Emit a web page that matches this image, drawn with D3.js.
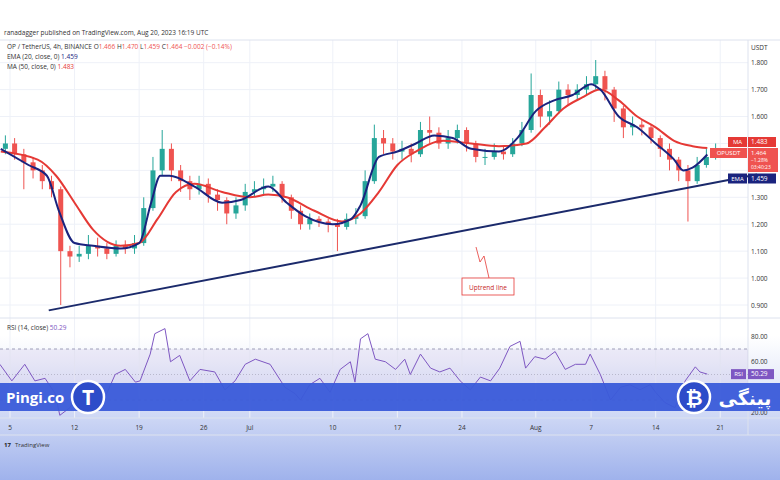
<!DOCTYPE html>
<html><head><meta charset="utf-8">
<script src="https://cdnjs.cloudflare.com/ajax/libs/d3/7.8.5/d3.min.js"></script>
<style>body{margin:0;background:#fff;font-family:"Open Sans",sans-serif}</style>
</head><body><svg id="c" width="780" height="480"></svg>
<script>
// daily candles, Jun 4 .. Aug 20 (open = previous close)
const closes = [1.50,1.46,1.43,1.40,1.36,1.33,1.10,1.08,1.09,1.12,1.11,1.09,1.12,1.11,1.13,1.26,1.40,1.48,1.40,1.36,1.33,1.35,1.31,1.29,1.24,1.27,1.32,
  1.33,1.34,1.35,1.30,1.25,1.20,1.22,1.21,1.20,1.19,1.22,1.23,1.36,1.52,1.50,1.47,1.48,1.46,1.55,1.54,1.50,1.52,1.55,1.50,1.45,1.45,1.47,1.46,1.50,1.55,1.68,
  1.60,1.62,1.70,1.68,1.70,1.72,1.75,1.70,1.63,1.56,1.57,1.56,1.52,1.48,1.44,1.40,1.36,1.42,1.45,1.464];
const highs = [1.53,1.52,1.48,1.45,1.42,1.38,1.34,1.12,1.12,1.16,1.15,1.13,1.14,1.14,1.16,1.30,1.45,1.55,1.50,1.42,1.38,1.38,1.37,1.33,1.30,1.30,1.35,
  1.36,1.37,1.38,1.36,1.31,1.27,1.24,1.23,1.22,1.22,1.24,1.26,1.40,1.57,1.55,1.52,1.51,1.50,1.58,1.60,1.56,1.55,1.57,1.56,1.51,1.48,1.50,1.49,1.52,1.58,1.76,
  1.70,1.66,1.73,1.72,1.72,1.75,1.81,1.77,1.71,1.64,1.60,1.59,1.57,1.53,1.50,1.45,1.42,1.45,1.48,1.50];
const lows = [1.46,1.44,1.33,1.37,1.33,1.30,0.90,1.04,1.06,1.07,1.08,1.07,1.08,1.09,1.09,1.12,1.25,1.38,1.36,1.32,1.29,1.31,1.28,1.25,1.20,1.22,1.25,
  1.30,1.31,1.32,1.28,1.22,1.18,1.18,1.19,1.17,1.10,1.18,1.20,1.22,1.35,1.46,1.44,1.44,1.43,1.45,1.50,1.48,1.48,1.50,1.47,1.43,1.42,1.44,1.44,1.45,1.49,1.54,
  1.56,1.57,1.61,1.64,1.66,1.68,1.70,1.66,1.58,1.52,1.53,1.53,1.50,1.45,1.40,1.36,1.21,1.35,1.41,1.44];
const firstOpen = 1.48;

// indicator lines: [days from Jun 5, value]
const ema20 = [[-1,1.48],[2,1.42],[4,1.38],[5.3,1.25],[7,1.13],[9,1.12],[12,1.11],[14,1.13],[15.3,1.28],[16.3,1.38],[17.3,1.38],[20,1.34],[23,1.28],[25,1.29],
  [28,1.34],[30,1.28],[32,1.23],[35,1.20],[37,1.22],[38,1.27],[40,1.45],[42,1.47],[44,1.50],[46,1.53],[48,1.52],[50,1.48],[53,1.47],[55,1.52],[57,1.62],
  [59,1.66],[61,1.68],[63,1.72],[64,1.70],[66,1.60],[68,1.56],[70,1.50],[72,1.44],[73,1.40],[74,1.41],[75.6,1.459]];
const ma50 = [[-1,1.47],[3,1.44],[5,1.38],[7,1.28],[9,1.18],[12,1.12],[14,1.13],[16,1.22],[18,1.32],[20,1.35],[23,1.32],[26,1.30],[28,1.31],[30,1.30],
  [33,1.25],[36,1.21],[38,1.24],[40,1.32],[42,1.42],[44,1.47],[47,1.51],[50,1.50],[53,1.49],[56,1.50],[58,1.56],[60,1.63],[62,1.67],[64,1.70],[66,1.66],
  [68,1.60],[70,1.56],[72,1.51],[74,1.49],[75.6,1.483]];
const rsi = [[-1.1,58],[0.2,45],[1.6,58],[2.7,45],[3.8,47],[4.9,35],[5.4,18],[6.5,24],[7.6,38],[8.7,40],[9.8,42],[10.3,32],[11.4,50],[12.5,54],[13.6,44],
  [14.1,45],[15.2,66],[15.7,82],[16.8,86],[17.4,60],[18.4,65],[19.5,45],[20.6,54],[22.2,52],[23.3,38],[24.4,45],[25.5,58],[26.6,62],[28.2,58],[29.8,40],
  [30.9,35],[31.5,30],[32.5,42],[33.6,47],[34.7,36],[35.8,54],[36.9,60],[37.4,44],[38.0,78],[38.8,82],[39.6,62],[40.7,60],[41.8,54],[42.8,62],[43.4,50],
  [44.5,66],[45.6,55],[46.6,52],[47.7,55],[48.8,45],[49.9,38],[51.0,48],[52.1,45],[53.1,55],[54.2,72],[55.3,76],[55.9,55],[56.9,64],[58.0,62],[59.1,68],
  [60.2,54],[61.3,58],[62.4,58],[62.9,66],[64.0,50],[65.1,30],[66.2,40],[67.2,42],[68.3,38],[69.4,42],[70.0,36],[71.0,28],[72.1,24],[73.2,45],[74.3,56],
  [74.8,52],[75.6,50.29]];
const trend = [[4.2,0.88],[81,1.385]];
const priceTicks = [0.9,1.0,1.1,1.2,1.3,1.4,1.5,1.6,1.7,1.8];
const rsiTicks = [20,60,80];
const dateTicks = [[0,"5"],[7,"12"],[14,"19"],[21,"26"],[26,"Jul"],[35,"10"],[42,"17"],[49,"24"],[57,"Aug"],[63,"7"],[70,"14"],[77,"21"]];

const svg = d3.select("#c");
const W = 748;
const x = d3.scaleLinear().domain([0, 76]).range([10, 711]);
const y = d3.scaleLinear().domain([0.9, 1.8]).range([305, 62.7]);
const yr = d3.scaleLinear().domain([30, 70]).range([400, 349]);

const defs = svg.append("defs");
const g1 = defs.append("linearGradient").attr("id","bg").attr("x1",0).attr("x2",0).attr("y1",0).attr("y2",1);
g1.append("stop").attr("offset","0").attr("stop-color","#ffffff");
g1.append("stop").attr("offset","0.7").attr("stop-color","#ffffff");
g1.append("stop").attr("offset","0.82").attr("stop-color","#dfe5f8");
g1.append("stop").attr("offset","1").attr("stop-color","#9fb2ec");
svg.append("rect").attr("width",780).attr("height",480).attr("fill","url(#bg)");

svg.append("text").attr("x",4).attr("y",35).attr("font-size",6.5).attr("fill","#333")
  .text("ranadagger published on TradingView.com, Aug 20, 2023 16:19 UTC");

// grid
const grid = svg.append("g").attr("stroke","#eef1f8").attr("stroke-width",1);
dateTicks.forEach(d => grid.append("line").attr("x1",x(d[0])).attr("x2",x(d[0])).attr("y1",40).attr("y2",418));
priceTicks.forEach(p => grid.append("line").attr("x1",0).attr("x2",W).attr("y1",y(p)).attr("y2",y(p)));
svg.append("line").attr("x1",W).attr("x2",W).attr("y1",40).attr("y2",435).attr("stroke","#dde2ee");
svg.append("line").attr("x1",0).attr("x2",780).attr("y1",318).attr("y2",318).attr("stroke","#dde2ee");
svg.append("line").attr("x1",0).attr("x2",780).attr("y1",418).attr("y2",418).attr("stroke","#dde2ee");
svg.append("line").attr("x1",0).attr("x2",780).attr("y1",40).attr("y2",40).attr("stroke","#dde2ee");

// candles
const candles = closes.map((c, i) => ({t: i - 1 + 0.5, o: i ? closes[i-1] : firstOpen, c, h: highs[i], l: lows[i]}));
const cg = svg.append("g");
candles.forEach(d => {
  const col = d.c >= d.o ? "#26a69a" : "#ef5350";
  cg.append("line").attr("x1",x(d.t)).attr("x2",x(d.t)).attr("y1",y(d.h)).attr("y2",y(d.l)).attr("stroke",col);
  cg.append("rect").attr("x",x(d.t)-2.5).attr("width",5)
    .attr("y",y(Math.max(d.o,d.c))).attr("height",Math.max(1,Math.abs(y(d.o)-y(d.c)))).attr("fill",col);
});

const line = d3.line().x(d => x(d[0])).y(d => y(d[1])).curve(d3.curveMonotoneX);
svg.append("path").attr("d",line(ma50)).attr("fill","none").attr("stroke","#e53935").attr("stroke-width",2);
svg.append("path").attr("d",line(ema20)).attr("fill","none").attr("stroke","#1a237e").attr("stroke-width",2);
svg.append("path").attr("d",d3.line().x(d => x(d[0])).y(d => y(d[1]))(trend)).attr("stroke","#1b2a6b").attr("stroke-width",2);

// annotation
svg.append("path").attr("d","M476,247 L480,262 L484,256 L489,278").attr("fill","none").attr("stroke","#e53935").attr("stroke-width",0.8);
svg.append("rect").attr("x",462).attr("y",278).attr("width",52).attr("height",17).attr("fill","#fff").attr("stroke","#e53935").attr("stroke-width",0.8);
svg.append("text").attr("x",488).attr("y",289.5).attr("text-anchor","middle").attr("font-size",6.5).attr("fill","#c62828").text("Uptrend line");

// legend
const lg = svg.append("g").attr("font-size",6.5);
const l1 = lg.append("text").attr("x",7).attr("y",49).attr("fill","#333");
l1.append("tspan").text("OP / TetherUS, 4h, BINANCE  ");
[["O","1.466"],["H","1.470"],["L","1.459"],["C","1.464"]].forEach(p => {
  l1.append("tspan").attr("fill","#333").text(p[0]);
  l1.append("tspan").attr("fill","#ef5350").text(p[1] + "  ");
});
l1.append("tspan").attr("fill","#ef5350").text("−0.002 (−0.14%)");
const l2 = lg.append("text").attr("x",7).attr("y",59).attr("fill","#333").text("EMA (20, close, 0)  ");
l2.append("tspan").attr("fill","#1a237e").text("1.459");
const l3 = lg.append("text").attr("x",7).attr("y",69).attr("fill","#333").text("MA (50, close, 0)  ");
l3.append("tspan").attr("fill","#e53935").text("1.483");

// price axis (1.4 and 1.5 sit under the value tags)
svg.append("text").attr("x",751).attr("y",50).attr("font-size",6.5).attr("fill","#333").text("USDT");
priceTicks.filter(p => p !== 1.4 && p !== 1.5)
  .forEach(p => svg.append("text").attr("x",751).attr("y",y(p)+2.5).attr("font-size",6.5).attr("fill","#333").text(p.toFixed(3)));
function tag(yy, lbl, val, col) {
  svg.append("rect").attr("x",W-20).attr("y",yy-5).attr("width",19).attr("height",10).attr("fill",col);
  svg.append("text").attr("x",W-10.5).attr("y",yy+2.3).attr("text-anchor","middle").attr("font-size",6).attr("fill","#fff").text(lbl);
  svg.append("rect").attr("x",W).attr("y",yy-5).attr("width",28).attr("height",10).attr("fill",col);
  svg.append("text").attr("x",W+3).attr("y",yy+2.3).attr("font-size",6.5).attr("fill","#fff").text(val);
}
tag(142, "MA", "1.483", "#e53935");
svg.append("rect").attr("x",W-38).attr("y",148).attr("width",37).attr("height",10).attr("fill","#ef5350");
svg.append("text").attr("x",W-19.5).attr("y",155.3).attr("text-anchor","middle").attr("font-size",6).attr("fill","#fff").text("OPUSDT");
svg.append("rect").attr("x",W).attr("y",148).attr("width",30).attr("height",24).attr("fill","#ef5350");
["1.464","−1.28%","03:40:23"].forEach((t,i) => svg.append("text").attr("x",W+3).attr("y",154.5+i*7).attr("font-size",i?5:6).attr("fill","#fff").text(t));
tag(178.5, "EMA", "1.459", "#1a237e");

// RSI pane
svg.append("rect").attr("x",0).attr("width",W).attr("y",yr(70)).attr("height",yr(30)-yr(70)).attr("fill","#7e57c2").attr("opacity",0.09);
[70,30].forEach(v => svg.append("line").attr("x1",0).attr("x2",W).attr("y1",yr(v)).attr("y2",yr(v)).attr("stroke","#9e9eb8").attr("stroke-dasharray","3,3"));
svg.append("line").attr("x1",0).attr("x2",W).attr("y1",yr(50)).attr("y2",yr(50)).attr("stroke","#b8b8cc").attr("stroke-dasharray","1,2");
svg.append("path").attr("d",d3.line().x(d => x(d[0])).y(d => yr(d[1]))(rsi)).attr("fill","none").attr("stroke","#7e57c2").attr("stroke-width",1);
svg.append("text").attr("x",7).attr("y",330).attr("font-size",6.5).attr("fill","#333").text("RSI (14, close)  ").append("tspan").attr("fill","#7e57c2").text("50.29");
rsiTicks.forEach(v => svg.append("text").attr("x",751).attr("y",yr(v)+2.5).attr("font-size",6.5).attr("fill","#333").text(v.toFixed(2)));
svg.append("rect").attr("x",731).attr("y",yr(50.29)-5).attr("width",15).attr("height",10).attr("fill","#7e57c2");
svg.append("text").attr("x",738.5).attr("y",yr(50.29)+2.3).attr("text-anchor","middle").attr("font-size",6).attr("fill","#fff").text("RSI");
svg.append("rect").attr("x",W).attr("y",yr(50.29)-5).attr("width",26).attr("height",10).attr("fill","#7e57c2");
svg.append("text").attr("x",W+3).attr("y",yr(50.29)+2.3).attr("font-size",6.5).attr("fill","#fff").text("50.29");

// watermark band
svg.append("rect").attr("x",0).attr("y",383).attr("width",780).attr("height",28).attr("fill","#3a5bd9").attr("opacity",0.95);
svg.append("text").attr("x",6).attr("y",403).attr("font-size",15).attr("font-weight","bold").attr("fill","#fff").text("Pingi.co");
[[88,"T"],[694,"₿"]].forEach(c => {
  svg.append("circle").attr("cx",c[0]).attr("cy",397).attr("r",16).attr("fill","#2d4cc9").attr("stroke","#fff").attr("stroke-width",2.5);
  svg.append("text").attr("x",c[0]).attr("y",405).attr("text-anchor","middle").attr("font-size",21).attr("font-weight","bold").attr("fill","#fff").text(c[1]);
});
svg.append("text").attr("x",745).attr("y",405).attr("text-anchor","middle").attr("font-size",19).attr("font-weight","bold").attr("fill","#fff").attr("font-family","DejaVu Sans").text("پینگی");

// date axis
dateTicks.forEach(d => svg.append("text").attr("x",x(d[0])).attr("y",430).attr("text-anchor","middle").attr("font-size",6.5).attr("fill","#333").text(d[1]));
svg.append("line").attr("x1",0).attr("x2",780).attr("y1",435).attr("y2",435).attr("stroke","#dde2ee");
svg.append("text").attr("x",4).attr("y",447).attr("font-size",6).attr("font-weight","bold").attr("fill","#222").text("17");
svg.append("text").attr("x",15).attr("y",447).attr("font-size",6).attr("fill","#333").text("TradingView");
</script></body></html>
